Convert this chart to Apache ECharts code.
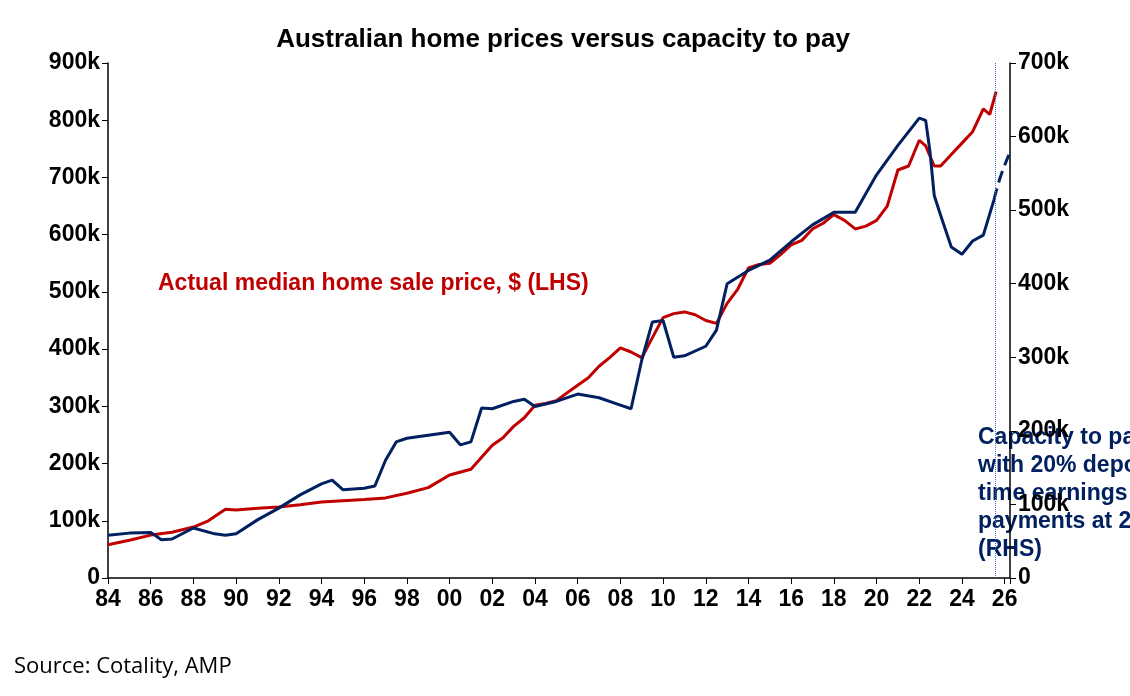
<!DOCTYPE html>
<html><head><meta charset="utf-8">
<script src="https://cdn.jsdelivr.net/npm/echarts@6/dist/echarts.min.js"></script>
<style>html,body{margin:0;background:#fff}#c{width:1130px;height:696px}</style>
</head><body><div id="c"></div>
<script>
// years (decimal) and values
var priceYears = [1984,1985,1986,1987,1988,1988.7,1989.5,1990,1991,1992,1993,1994,1995,1996,1997,1998,1999,2000,2001,2002,2002.5,2003,2003.5,2004,2004.5,2005,2006,2006.5,2007,2007.5,2008,2008.5,2009,2009.5,2010,2010.5,2011,2011.5,2012,2012.5,2013,2013.5,2014,2014.5,2015,2015.5,2016,2016.5,2017,2017.5,2018,2018.5,2019,2019.5,2020,2020.5,2021,2021.5,2022,2022.3,2022.7,2023,2023.5,2024,2024.5,2025,2025.3,2025.6];
var priceVals  = [58,66,75,80,89,100,120,119,122,124,128,133,135,137,140,148,158,180,190,232,245,265,280,302,305,310,337,350,370,385,402,395,385,420,455,462,465,460,450,445,480,505,542,548,550,565,582,590,610,620,635,625,610,615,625,650,713,720,765,755,720,720,740,760,780,820,810,850];
var capYears = [1984,1985,1986,1986.5,1987,1988,1989,1989.5,1990,1991,1992,1993,1994,1994.5,1995,1996,1996.5,1997,1997.5,1998,1999,2000,2000.5,2001,2001.5,2002,2003,2003.5,2004,2005,2006,2007,2008,2008.5,2009,2009.5,2010,2010.5,2011,2012,2012.5,2013,2014,2015,2016,2017,2018,2019,2020,2021,2022,2022.3,2022.5,2022.7,2023,2023.5,2024,2024.5,2025,2025.5];
var capVals  = [58,61,62,52,53,68,60,58,60,79,95,113,128,133,120,122,125,160,185,190,194,198,181,185,231,230,240,243,233,240,250,245,235,230,296,348,350,300,302,315,337,400,418,432,457,480,497,497,548,588,625,622,580,520,493,450,440,458,466,514];
var capFcYears = [2025.5,2025.8,2026.2];
var capFcVals  = [514,545,575];

function pairs(xs, ys){ return xs.map(function(x,i){return [x, ys[i]*1000];}); }

var FF = '"Liberation Sans", Arial, sans-serif';
var chart = echarts.init(document.getElementById('c'));
var axisFont = {fontFamily:FF, fontWeight:'bold', fontSize:23, color:'#000'};
chart.setOption({
  animation:false,
  title:{text:'Australian home prices versus capacity to pay', left:558, top:22, textAlign:'center',
    textStyle:{fontFamily:FF, fontWeight:'bold', fontSize:26, color:'#000'}},
  grid:{left:108, right:120, top:63, bottom:118},
  xAxis:{type:'value', min:1984, max:2026.25, interval:2,
    axisLine:{lineStyle:{color:'#000', width:1.5}}, axisTick:{show:true, length:6, lineStyle:{color:'#000'}},
    splitLine:{show:false},
    axisLabel:Object.assign({margin:10, formatter:function(v){ return v>2026.1?'':String(v%100).padStart(2,'0'); }}, axisFont)},
  yAxis:[
    {type:'value', min:0, max:900000, interval:100000, splitLine:{show:false},
     axisLine:{show:true, lineStyle:{color:'#000', width:1.5}}, axisTick:{show:true, length:6, lineStyle:{color:'#000'}},
     axisLabel:Object.assign({formatter:function(v){return v===0?'0':(v/1000)+'k';}}, axisFont)},
    {type:'value', min:0, max:700000, interval:100000, splitLine:{show:false},
     axisLine:{show:true, lineStyle:{color:'#000', width:1.5}}, axisTick:{show:true, length:6, lineStyle:{color:'#000'}},
     axisLabel:Object.assign({formatter:function(v){return v===0?'0':(v/1000)+'k';}}, axisFont)}
  ],
  series:[
    {type:'line', name:'price', data:pairs(priceYears, priceVals), showSymbol:false,
     lineStyle:{color:'#c00000', width:3}, z:3,
     markLine:{silent:true, symbol:'none', label:{show:false},
       lineStyle:{color:'#4472c4', type:'dotted', width:1}, data:[{xAxis:2025.55}]}},
    {type:'line', name:'cap', yAxisIndex:1, data:pairs(capYears, capVals), showSymbol:false,
     lineStyle:{color:'#002060', width:3}, z:4},
    {type:'line', name:'capfc', yAxisIndex:1, data:pairs(capFcYears, capFcVals), showSymbol:false, smooth:true,
     lineStyle:{color:'#002060', width:3, type:'dashed'}, z:4}
  ],
  graphic:[
    {type:'text', left:158, top:272, style:{text:'Actual median home sale price, $ (LHS)',
      font:'bold 23px ' + FF, fill:'#c00000'}},
    {type:'text', left:978, top:424, style:{text:'Capacity to pay for a borrower\nwith 20% deposit, average full\ntime earnings & mortgage\npayments at 28% of income, $\n(RHS)',
      font:'bold 23px ' + FF, fill:'#002060', align:'right', lineHeight:28}},
    {type:'text', left:14, top:656, style:{text:'Source: Cotality, AMP', font:'22px "Open Sans", Arial', fill:'#000'}}
  ]
});
</script></body></html>
